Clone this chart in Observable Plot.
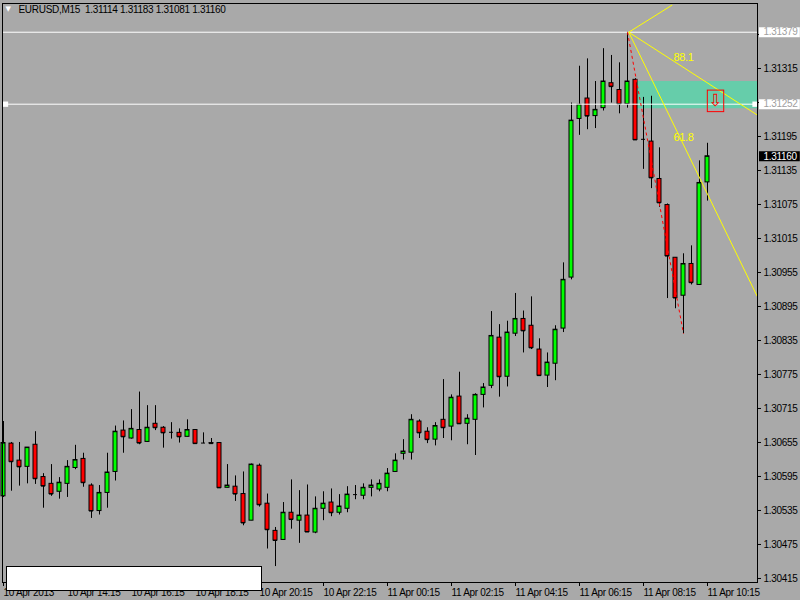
<!DOCTYPE html>
<html>
<head>
<meta charset="utf-8">
<script src="https://cdn.jsdelivr.net/npm/d3@7"></script>
<script src="https://cdn.jsdelivr.net/npm/@observablehq/plot@0.6"></script>
<style>
  html, body { margin: 0; padding: 0; background: #A9A9A9; }
  #wrap { position: relative; width: 800px; height: 600px; overflow: hidden; }
  #box { position: absolute; left: 6px; top: 566px; width: 254px; height: 23px; background: #fff; border: 1px solid #000; }
</style>
</head>
<body>
<div id="wrap"><div id="chart"></div><div id="box"></div></div>
<script>
// ---- data (EURUSD, M15) ----
const symbol = "EURUSD";
const timeframe = "M15";
const opens = [1.30560,1.30653,1.30623,1.30612,1.30651,1.30594,1.30582,1.30568,1.30582,1.30610,
1.30626,1.30579,1.30534,1.30566,1.30603,1.30676,1.30662,1.30677,1.30656,1.30688,
1.30681,1.30673,1.30672,1.30665,1.30677,1.30654,1.30654,1.30654,1.30575,1.30577,
1.30564,1.30517,1.30614,1.30547,1.30499,1.30483,1.30531,1.30517,1.30526,1.30496,
1.30538,1.30549,1.30531,1.30538,1.30563,1.30561,1.30575,1.30572,1.30575,1.30603,
1.30635,1.30637,1.30692,1.30674,1.30660,1.30695,1.30683,1.30736,1.30688,1.30695,
1.30739,1.30755,1.30840,1.30771,1.30847,1.30873,1.30861,1.30819,1.30773,1.30794,
1.30856,1.30946,1.31226,1.31262,1.31231,1.31245,1.31289,1.31277,1.31252,1.31295,
1.31190,1.31186,1.31120,1.31074,1.30981,1.30914,1.30970,1.30933,1.31114];
const highs = [1.30692,1.30655,1.30655,1.30646,1.30674,1.30600,1.30616,1.30593,1.30623,1.30650,
1.30636,1.30582,1.30579,1.30636,1.30684,1.30693,1.30713,1.30744,1.30720,1.30720,
1.30683,1.30690,1.30679,1.30695,1.30677,1.30672,1.30662,1.30654,1.30616,1.30596,
1.30603,1.30617,1.30617,1.30564,1.30505,1.30549,1.30589,1.30570,1.30580,1.30559,
1.30568,1.30573,1.30563,1.30577,1.30579,1.30582,1.30589,1.30589,1.30609,1.30635,
1.30660,1.30704,1.30695,1.30681,1.30690,1.30766,1.30739,1.30779,1.30704,1.30741,
1.30759,1.30886,1.30863,1.30869,1.30918,1.30887,1.30912,1.30838,1.30813,1.30861,
1.30972,1.31254,1.31319,1.31332,1.31292,1.31350,1.31338,1.31325,1.31379,1.31297,
1.31264,1.31266,1.31175,1.31076,1.30981,1.30988,1.31002,1.31152,1.31183];
const lows = [1.30558,1.30569,1.30578,1.30582,1.30581,1.30539,1.30560,1.30555,1.30558,1.30607,
1.30576,1.30521,1.30527,1.30539,1.30587,1.30636,1.30661,1.30651,1.30655,1.30676,
1.30645,1.30661,1.30654,1.30665,1.30653,1.30653,1.30652,1.30575,1.30575,1.30551,
1.30508,1.30517,1.30541,1.30467,1.30436,1.30483,1.30502,1.30477,1.30497,1.30494,
1.30517,1.30524,1.30527,1.30531,1.30554,1.30554,1.30559,1.30568,1.30568,1.30602,
1.30624,1.30624,1.30662,1.30653,1.30649,1.30662,1.30658,1.30688,1.30651,1.30632,
1.30716,1.30750,1.30735,1.30753,1.30842,1.30813,1.30819,1.30773,1.30752,1.30764,
1.30849,1.30942,1.31197,1.31207,1.31209,1.31240,1.31254,1.31235,1.31245,1.31188,
1.31137,1.31103,1.31070,1.30909,1.30891,1.30847,1.30933,1.30932,1.31081];
const closes = [1.30654,1.30621,1.30612,1.30646,1.30591,1.30578,1.30564,1.30584,1.30612,1.30624,
1.30584,1.30534,1.30566,1.30602,1.30674,1.30665,1.30679,1.30654,1.30681,1.30681,
1.30672,1.30673,1.30665,1.30677,1.30653,1.30654,1.30653,1.30575,1.30579,1.30564,
1.30513,1.30616,1.30545,1.30501,1.30482,1.30531,1.30519,1.30526,1.30497,1.30538,
1.30547,1.30531,1.30542,1.30563,1.30563,1.30575,1.30579,1.30582,1.30600,1.30623,
1.30639,1.30695,1.30672,1.30660,1.30684,1.30681,1.30734,1.30688,1.30697,1.30739,
1.30752,1.30843,1.30771,1.30849,1.30873,1.30852,1.30822,1.30773,1.30796,1.30854,
1.30942,1.31223,1.31251,1.31231,1.31242,1.31292,1.31283,1.31252,1.31292,1.31189,
1.31190,1.31122,1.31078,1.30984,1.30910,1.30970,1.30937,1.31113,1.31160];

const xTickIdx = [0, 8, 16, 24, 32, 40, 48, 56, 64, 72, 80, 88];
const xTickLabels = ["10 Apr 2013", "10 Apr 14:15", "10 Apr 16:15", "10 Apr 18:15", "10 Apr 20:15",
  "10 Apr 22:15", "11 Apr 00:15", "11 Apr 02:15", "11 Apr 04:15", "11 Apr 06:15", "11 Apr 08:15", "11 Apr 10:15"];
const yTicks = [1.30415, 1.30475, 1.30535, 1.30595, 1.30655, 1.30715, 1.30775, 1.30835, 1.30895,
  1.30955, 1.31015, 1.31075, 1.31135, 1.31195, 1.31255, 1.31315, 1.31375];
const yTicksUnderTags = [1.31255, 1.31375];

// drawn objects
const hLines = [1.31379, 1.31252];
const selectedLine = 1.31252;
const handleIdx = [0.25, 93.94];
const zoneIdx = [79.25, 94.25];
const zonePrice = [1.31244, 1.31292];
const fanApex = {i: 78.16, p: 1.31379};
const fanEndIdx = [83.59, 94.21, 94.21];
const fanEndPrice = [1.31427, 1.31233, 1.30913];
const fanLabelText = ["88.1", "61.8"];
const fanLabelIdx = [85, 85];
const fanLabelPrice = [1.31334, 1.31193];
const zigFrom = 78, zigTo = 85;
const boxIdx = [88.04, 90.09];
const boxPrice = [1.31238, 1.31276];
const arrowAt = {i: 88.95, p: 1.31258};

// ---- build tables ----
const candles = opens.map((o, i) => ({i, open: o, high: highs[i], low: lows[i], close: closes[i]}));
const tickLabel = new Map(xTickIdx.map((d, k) => [d, xTickLabels[k]]));
const fan = fanEndIdx.map((e, k) => ({x1: fanApex.i, y1: fanApex.p, x2: e, y2: fanEndPrice[k]}));
const fanLabels = fanLabelText.map((t, k) => ({t, i: fanLabelIdx[k], p: fanLabelPrice[k]}));
const last = candles[candles.length - 1];
const fmt = d3.format(".5f");
const yFmt = d => yTicksUnderTags.some(v => Math.abs(v - d) < 1e-7) ? "" : fmt(d);
const priceTags = [
  {p: hLines[0], bg: "#ffffff", fg: "#a0a0a0"},
  {p: hLines[1], bg: "#ffffff", fg: "#a0a0a0"},
  {p: last.close, bg: "#000000", fg: "#ffffff"}
];
const header = `${symbol},${timeframe}\u00a0\u00a0${fmt(last.open)} ${fmt(last.high)} ${fmt(last.low)} ${fmt(last.close)}`;
const halfBody = 0.25;

const chart = Plot.plot({
  width: 800,
  height: 600,
  marginLeft: 2,
  marginRight: 43,
  marginTop: 3,
  marginBottom: 18,
  x: {domain: [-0.125, 94.25], axis: null},
  y: {domain: [1.304079, 1.314297], axis: null},
  style: {background: "#A9A9A9", color: "black", fontFamily: "'Liberation Sans', Arial, sans-serif", fontSize: "10px", letterSpacing: "-0.3px"},
  marks: [
    Plot.rect([0], {x1: zoneIdx[0], x2: zoneIdx[1], y1: zonePrice[0], y2: zonePrice[1], fill: "#66CDAA"}),
    Plot.axisY({anchor: "right", ticks: yTicks, tickSize: 3, tickPadding: 3, tickFormat: yFmt, label: null, fontSize: 10}),
    Plot.axisX({anchor: "bottom", ticks: xTickIdx, tickSize: 4, tickPadding: 2, tickFormat: d => tickLabel.get(d), textAnchor: "start", label: null, fontSize: 10}),
    Plot.ruleX(candles, {x: "i", y1: "low", y2: "high", stroke: "black"}),
    Plot.rect(candles, {
      x1: d => d.i - halfBody, x2: d => d.i + halfBody,
      y1: "open", y2: "close",
      fill: d => d.close >= d.open ? "#00FF00" : "#FF0000",
      stroke: "black"
    }),
    Plot.ruleY(candles, {y: "close", x1: d => d.i - halfBody, x2: d => d.i + halfBody, stroke: "black"}),
    Plot.ruleY(hLines, {stroke: "white"}),
    Plot.dot(handleIdx, {x: d => d, y: () => selectedLine, symbol: "square", r: 3, fill: "white", stroke: "none"}),
    Plot.link(fan, {x1: "x1", y1: "y1", x2: "x2", y2: "y2", stroke: "#FFFF00", clip: true}),
    Plot.text(fanLabels, {x: "i", y: "p", text: "t", fill: "#FFFF00", fontSize: 11}),
    Plot.link([0], {x1: zigFrom, y1: highs[zigFrom], x2: zigTo, y2: lows[zigTo], stroke: "#FF0000", strokeDasharray: "3,3"}),
    Plot.rect([0], {x1: boxIdx[0], x2: boxIdx[1], y1: boxPrice[0], y2: boxPrice[1], fill: "none", stroke: "#FF0000"}),
    Plot.text([0], {x: arrowAt.i, y: arrowAt.p, text: () => "⇩", fill: "#FF0000", fontSize: 17, fontFamily: "DejaVu Sans"}),
    Plot.frame({stroke: "black"}),
    Plot.ruleY(priceTags, {y: "p", x1: 94.5, x2: 99.6, stroke: "bg", strokeWidth: 10}),
    Plot.text(priceTags, {x: 94.25, y: "p", text: d => fmt(d.p), fill: "fg", textAnchor: "start", dx: 6, fontSize: 10}),
    Plot.text(["▼"], {frameAnchor: "top-left", dx: 3, dy: 3, fill: "white", fontSize: 7, fontFamily: "DejaVu Sans", textAnchor: "start", lineAnchor: "top"}),
    Plot.text([header], {frameAnchor: "top-left", dx: 16, dy: 2, fill: "black", fontSize: 10, textAnchor: "start", lineAnchor: "top"})
  ]
});
document.getElementById("chart").appendChild(chart);
</script>
</body>
</html>
